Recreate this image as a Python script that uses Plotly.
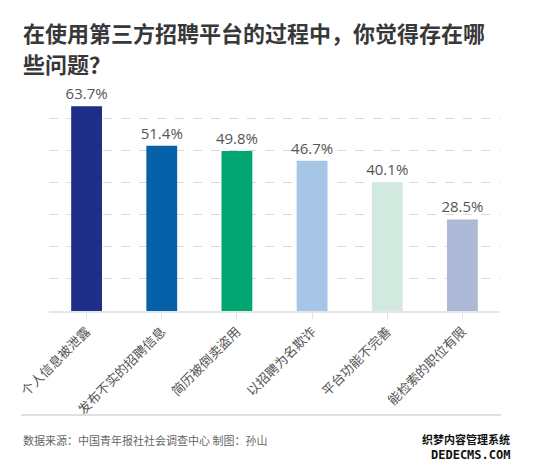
import plotly.graph_objects as go

categories = ["个人信息被泄露", "发布不实的招聘信息", "简历被倒卖盗用", "以招聘为名欺诈", "平台功能不完善", "能检索的职位有限"]
values = [63.7, 51.4, 49.8, 46.7, 40.1, 28.5]
colors = ["#1d2f88", "#0661a9", "#03a572", "#a6c5e7", "#d2e9e0", "#adb9d6"]
title_lines = ["在使用第三方招聘平台的过程中，你觉得存在哪", "些问题？"]
source_text = "数据来源：中国青年报社社会调查中心 制图：孙山"

W, H = 550, 468
L, R, T, BM = 49, 50, 85, 10
PLOT_BOTTOM = 311
paper_h = H - BM - T

def py(pix):
    return (H - BM - pix) / paper_h

def px(pix):
    return (pix - L) / (W - L - R)

fig = go.Figure(go.Bar(
    x=categories, y=values, marker=dict(color=colors, line=dict(width=0)),
    width=0.41,
    texttemplate="%{y:.1f}%", textposition="outside", constraintext="none",
    textfont=dict(size=15, color="#555555", family="Open Sans, Noto Sans CJK SC"),
    cliponaxis=False,
))

fig.update_layout(
    template="none",
    width=W, height=H, margin=dict(l=L, r=R, t=T, b=BM),
    paper_bgcolor="white", plot_bgcolor="white",
    showlegend=False,
    font=dict(family="Noto Sans CJK SC", color="#555555"),
    xaxis=dict(tickangle=-45, tickfont=dict(size=13, color="#555555"), automargin=False,
               ticks="outside", ticklen=6, tickcolor="#e2e2e2", tickwidth=1,
               showline=True, linecolor="#e6e6e6", linewidth=1.5, showgrid=False,
               anchor="y"),
    yaxis=dict(range=[0, 70.3], dtick=10, showgrid=True, gridcolor="#d9d9d9", griddash="dash",
               gridwidth=1, showticklabels=False, zeroline=False, showline=False,
               automargin=False, ticks="", domain=[py(PLOT_BOTTOM), 1]),
    bargap=0.59,
)

ann = []
ann.append(dict(text="<b>" + title_lines[0] + "</b>", xref="paper", yref="paper", x=px(21), y=py(32),
                xanchor="left", yanchor="middle", showarrow=False,
                font=dict(size=22, color="#383838", family="Noto Sans CJK SC")))
ann.append(dict(text="<b>" + title_lines[1] + "</b>", xref="paper", yref="paper", x=px(21), y=py(63),
                xanchor="left", yanchor="middle", showarrow=False,
                font=dict(size=22, color="#383838", family="Noto Sans CJK SC")))
ann.append(dict(text=source_text, xref="paper", yref="paper", x=px(21), y=py(440),
                xanchor="left", yanchor="middle", showarrow=False,
                font=dict(size=11, color="#666666", family="Noto Sans CJK SC")))
ann.append(dict(text="<b>织梦内容管理系统</b>", xref="paper", yref="paper", x=px(512), y=py(439),
                xanchor="right", yanchor="middle", showarrow=False,
                font=dict(size=11, color="#111111", family="Noto Sans CJK SC")))
ann.append(dict(text="<b>DEDECMS.COM</b>", xref="paper", yref="paper", x=px(512), y=py(455),
                xanchor="right", yanchor="middle", showarrow=False,
                font=dict(size=12, color="#111111", family="DejaVu Sans Mono")))
fig.update_layout(annotations=ann)

# separator line under the category labels
fig.add_shape(type="line", xref="paper", yref="paper", x0=px(21), x1=px(501), y0=py(415), y1=py(415),
              line=dict(color="#d6d6d6", width=1.5), layer="above")

fig.write_html("out.html", config={"displayModeBar": False},
               post_script="document.body.style.margin='0';document.body.style.overflow='hidden';")
